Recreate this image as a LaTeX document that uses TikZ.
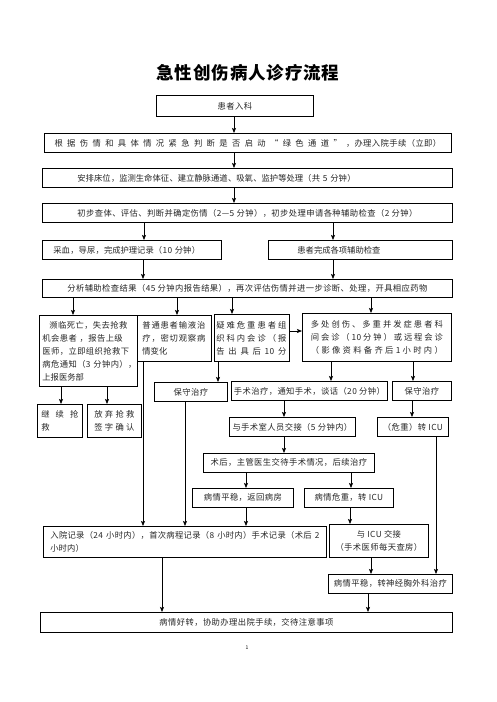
\documentclass[tikz,border=0pt]{standalone}
\usepackage{fontspec}
\setmainfont{Noto Sans CJK SC}[LetterSpace=5]
\usetikzlibrary{arrows.meta}
\XeTeXlinebreaklocale "zh"
\XeTeXlinebreakskip=0pt plus 1pt
\newcommand\fs{\fontsize{8.3}{13}\selectfont}
\def\sprendmark{\sprend}
\def\sprloop#1{\def\sprtmp{#1}\ifx\sprtmp\sprendmark\else\hfill#1\expandafter\sprloop\fi}
\def\sprfirst#1{#1\sprloop}
\newcommand\spr[2]{\makebox[#1][s]{\sprfirst#2\sprend}}
\newcommand\varr[3]{\draw[arr] (#2.south -| #1,0) -- (#3.north -| #1,0);}
\tikzset{
  bx/.style={draw, line width=0.8pt, inner sep=0pt, anchor=north west, font=\fs, text=black!85},
  arr/.style={line width=0.8pt, -{Stealth[length=5pt,width=4pt,inset=1pt]}},
}
\begin{document}
\begin{tikzpicture}[x=1pt,y=-1pt]
\fill[white] (0,0) rectangle (496,702);
\useasboundingbox (0,0) rectangle (496,702);

\node[font=\fontsize{17.5}{20}\bfseries\selectfont] (title) at (248,73) {急性创伤病人诊疗流程};

\node[bx, minimum width=157pt, minimum height=21pt] (n1) at (156,95) {患者入科};
\node[bx, minimum width=407pt, minimum height=19pt] (n2) at (44,133) {\spr{300pt}{根据伤情和具体情况紧急判断是否启动“绿色通道”，}办理入院手续（立即）};
\node[bx, minimum width=410pt, minimum height=19pt, text width=340pt, align=left] (n3) at (42,168) {安排床位，监测生命体征、建立静脉通道、吸氧、监护等处理（共 5 分钟）};
\node[bx, minimum width=410pt, minimum height=19pt] (n4) at (42,203) {初步查体、评估、判断并确定伤情（2—5 分钟），初步处理申请各种辅助检查（2 分钟）};
\node[bx, minimum width=179pt, minimum height=19pt, text width=157pt, align=left] (n5) at (42,240) {采血，导尿，完成护理记录（10 分钟）};
\node[bx, minimum width=184pt, minimum height=19pt, text width=126pt, align=left] (n6) at (268,240) {患者完成各项辅助检查};
\node[bx, minimum width=410pt, minimum height=18pt] (n7) at (42,279) {分析辅助检查结果（45 分钟内报告结果），再次评估伤情并进一步诊断、处理，开具相应药物};

\node[bx, minimum width=98pt, minimum height=71pt, text width=92pt, align=left] (n8) at (39,315) {\mbox{\hspace{7pt}濒临死亡，失去抢救}\\\mbox{机会患者 ，报告上级}\\\mbox{医师，立即组织抢救下}\\\mbox{病危通知（3 分钟内），}\\上报医务部};
\node[bx, minimum width=74pt, minimum height=46pt, text width=64pt, align=left] (n9) at (137,315) {\spr{63pt}{普通患者输液治}\\\spr{63pt}{疗，密切观察病}\\情变化};
\node[bx, minimum width=75pt, minimum height=47pt, text width=71pt, align=left] (n10) at (214,314) {\spr{70pt}{疑难危重患者组}\\\spr{70pt}{织科内会诊（报}\\\spr{70pt}{告出具后{10}分}};
\node[bx, minimum width=149pt, minimum height=48pt, text width=140pt, align=center] (n11) at (302,313) {\spr{132pt}{多处创伤、多重并发症患者科}\\\spr{132pt}{间会诊（{10}分钟）或远程会诊}\\\spr{132pt}{（影像资料备齐后{1}小时内）}};

\node[bx, minimum width=45pt, minimum height=33pt, text width=37pt, align=left] (n12) at (37,404) {\spr{37pt}{继续抢}\\救};
\node[bx, minimum width=54pt, minimum height=33pt, text width=40pt, align=left] (n13) at (87,404) {\spr{40pt}{放弃抢救}\\\spr{40pt}{签字确认}};
\node[bx, minimum width=73pt, minimum height=19pt] (n14) at (154,382) {保守治疗};
\node[bx, minimum width=156pt, minimum height=19pt] (n15) at (231,381) {手术治疗，通知手术，谈话（20 分钟）};
\node[bx, minimum width=59pt, minimum height=19pt] (n16) at (392,381) {保守治疗};
\node[bx, minimum width=126pt, minimum height=19pt] (n17) at (229,417) {与手术室人员交接（5 分钟内）};
\node[bx, minimum width=71pt, minimum height=19pt] (n18) at (377,417) {（危重）转 ICU};
\node[bx, minimum width=171pt, minimum height=19pt] (n19) at (203,453) {术后，主管医生交待手术情况，后续治疗};
\node[bx, minimum width=101pt, minimum height=19pt] (n20) at (192,488) {病情平稳，返回病房};
\node[bx, minimum width=89pt, minimum height=19pt] (n21) at (304,488) {病情危重，转 ICU};
\node[bx, minimum width=283pt, minimum height=31pt, text width=269pt, align=left] (n22) at (43,526) {\spr{269pt}{入院记录（{24 }小时内），首次病程记录（{8 }小时内）手术记录（术后{ 2}}\\小时内）};
\node[bx, minimum width=99pt, minimum height=33pt, align=center] (n23) at (329,524) {与 ICU 交接\\（手术医师每天查房）};
\node[bx, minimum width=124pt, minimum height=19pt] (n24) at (328,574) {病情平稳，转神经胸外科治疗};
\node[bx, minimum width=412pt, minimum height=20pt] (n25) at (40,612) {病情好转，协助办理出院手续，交待注意事项};

\node[font=\fontsize{5}{6}\selectfont] (pg) at (247,648) {1};

\varr{234}{n1}{n2}
\varr{234}{n2}{n3}
\varr{234}{n3}{n4}
\varr{144}{n4}{n5}
\varr{333}{n4}{n6}
\varr{143}{n5}{n7}
\varr{333}{n6}{n7}
\varr{73}{n7}{n8}
\varr{177}{n7}{n9}
\varr{232}{n7}{n10}
\varr{371}{n7}{n11}
\draw[arr] (n10.east |- 0,331) -- (n11.west |- 0,331);
\varr{61}{n8}{n12}
\varr{107}{n8}{n13}
\varr{143}{n9}{n22}
\varr{218}{n10}{n14}
\varr{185}{n14}{n22}
\varr{331}{n11}{n15}
\varr{413}{n11}{n16}
\varr{284}{n15}{n17}
\varr{412}{n16}{n18}
\varr{284}{n17}{n19}
\varr{246}{n19}{n20}
\varr{351}{n19}{n21}
\varr{246}{n20}{n22}
\varr{350}{n21}{n23}
\varr{436}{n18}{n24}
\varr{371}{n23}{n24}
\varr{162}{n22}{n25}
\varr{368}{n24}{n25}
\end{tikzpicture}
\end{document}
